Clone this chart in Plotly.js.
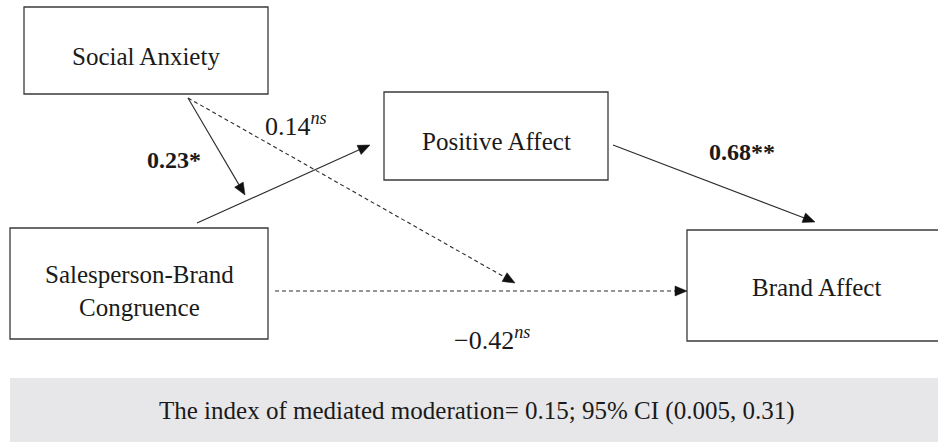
<!DOCTYPE html>
<html>
<head>
<meta charset="utf-8">
<script src="https://cdn.plot.ly/plotly-3.0.1.min.js"></script>
<style>html,body{margin:0;padding:0;background:#fff;}#chart{width:938px;height:442px;}</style>
</head>
<body>
<div id="chart"></div>
<script>
// ---- data ----
var nodeNames = ['Social Anxiety', 'Positive Affect', 'Salesperson-Brand<br>Congruence', 'Brand Affect'];
var pathFrom = ['Social Anxiety', 'Salesperson-Brand Congruence', 'Social Anxiety', 'Salesperson-Brand Congruence', 'Positive Affect'];
var pathTo = ['a-path (moderation)', 'Positive Affect', 'c-path (moderation)', 'Brand Affect', 'Brand Affect'];
var pathCoef = [0.23, null, 0.14, -0.42, 0.68];
var pathSig = ['*', '', 'ns', 'ns', '**'];
var pathSolid = [true, true, false, false, true];
var indexValue = 0.15;
var ciLow = 0.005;
var ciHigh = 0.31;

// ---- layout geometry (pixels, drawn through the axes) ----
var boxes = [
  {x0: 24, x1: 268, y0: 7, y1: 94, tx: 146, ty: 56},
  {x0: 384, x1: 608, y0: 92, y1: 180, tx: 496, ty: 141},
  {x0: 10, x1: 268, y0: 228, y1: 339, tx: 139, ty: 291},
  {x0: 687, x1: 950, y0: 230, y1: 341, tx: 816, ty: 287}
];
var paths = [
  {sx: 188, sy: 98, ex: 245, ey: 195, lx: 174, ly: 160, anchor: 'center'},
  {sx: 197, sy: 223, ex: 370, ey: 145},
  {sx: 188, sy: 98, ex: 515, ey: 283, lx: 263, ly: 124, anchor: 'left'},
  {sx: 275, sy: 291, ex: 687, ey: 291, lx: 452, ly: 338, anchor: 'left'},
  {sx: 613, sy: 145, ex: 815, ey: 222, lx: 742, ly: 152, anchor: 'center'}
];

var lineColor = '#2b2b2b';
var serif = 'Liberation Serif';
var shapes = [];
var annotations = [];

// footer band
shapes.push({type: 'rect', xref: 'x', yref: 'y', x0: 10, x1: 945, y0: 378, y1: 450,
  fillcolor: '#e7e7e9', line: {width: 0}, layer: 'below'});

boxes.forEach(function (b, i) {
  shapes.push({type: 'rect', xref: 'x', yref: 'y', x0: b.x0, x1: b.x1, y0: b.y0, y1: b.y1,
    fillcolor: '#ffffff', line: {color: '#3a3a3a', width: 1.3}});
  annotations.push({xref: 'x', yref: 'y', x: b.tx, y: b.ty, text: nodeNames[i], showarrow: false,
    xanchor: 'center', yanchor: 'middle', font: {family: serif, size: 25, color: '#1a1a1a'}});
});

function fmt(v) {
  var s = Math.abs(v).toFixed(2);
  return (v < 0 ? '\u2212' : '') + s;
}

var headLen = 12, headHalf = 5;
paths.forEach(function (p, i) {
  var solid = pathSolid[i];
  var dx = p.ex - p.sx, dy = p.ey - p.sy, L = Math.sqrt(dx * dx + dy * dy);
  var ux = dx / L, uy = dy / L;
  var bx = p.ex - ux * headLen, by = p.ey - uy * headLen;
  shapes.push({type: 'line', xref: 'x', yref: 'y', x0: p.sx, y0: p.sy, x1: bx + ux * 2, y1: by + uy * 2,
    line: {color: lineColor, width: 1.1, dash: solid ? 'solid' : '4px,3px'}});
  var px = -uy * headHalf, py = ux * headHalf;
  shapes.push({type: 'path', xref: 'x', yref: 'y',
    path: 'M' + p.ex + ',' + p.ey + ' L' + (bx + px) + ',' + (by + py) + ' L' + (bx - px) + ',' + (by - py) + ' Z',
    fillcolor: '#111111', line: {color: '#111111', width: 0.5}});
  if (pathCoef[i] !== null) {
    var txt;
    if (pathSig[i] === 'ns') {
      txt = fmt(pathCoef[i]) + '<sup><i>ns</i></sup>';
      annotations.push({xref: 'x', yref: 'y', x: p.lx, y: p.ly, text: txt, showarrow: false,
        xanchor: p.anchor, yanchor: 'middle', font: {family: serif, size: 26, color: '#1a1a1a'}});
    } else {
      txt = '<b>' + fmt(pathCoef[i]) + pathSig[i] + '</b>';
      annotations.push({xref: 'x', yref: 'y', x: p.lx, y: p.ly, text: txt, showarrow: false,
        xanchor: p.anchor, yanchor: 'middle', font: {family: serif, size: 24, color: '#1a1a1a'}});
    }
  }
});

annotations.push({xref: 'x', yref: 'y', x: 477, y: 411, showarrow: false, xanchor: 'center', yanchor: 'middle',
  text: 'The index of mediated moderation= ' + indexValue.toFixed(2) + '; 95% CI (' + ciLow.toFixed(3) + ', ' + ciHigh.toFixed(2) + ')',
  font: {family: serif, size: 25, color: '#1a1a1a'}});

var layout = {
  width: 938, height: 442,
  margin: {l: 0, r: 0, t: 0, b: 0, pad: 0},
  paper_bgcolor: '#ffffff', plot_bgcolor: '#ffffff',
  showlegend: false,
  font: {family: serif},
  xaxis: {range: [0, 938], visible: false, fixedrange: true},
  yaxis: {range: [442, 0], visible: false, fixedrange: true},
  shapes: shapes,
  annotations: annotations
};

Plotly.newPlot('chart', [{x: [0], y: [0], mode: 'markers', marker: {opacity: 0}, hoverinfo: 'skip'}], layout, {staticPlot: true, displayModeBar: false});
</script>
</body>
</html>
